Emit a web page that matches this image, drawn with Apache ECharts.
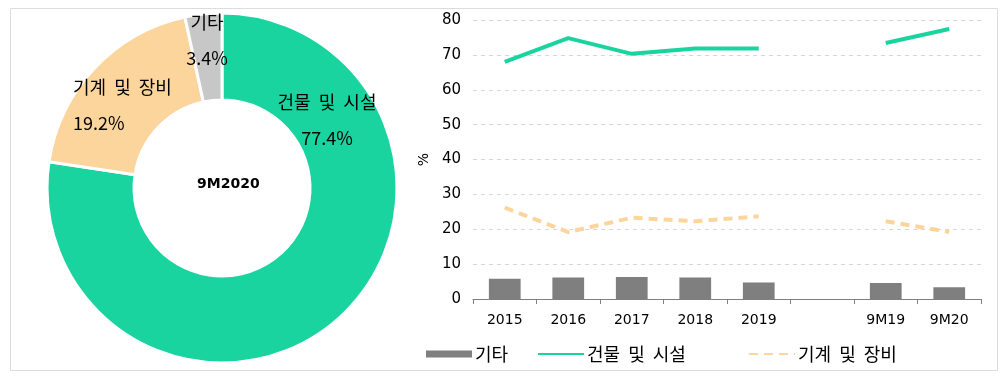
<!DOCTYPE html>
<html><head><meta charset="utf-8">
<script src="https://cdn.jsdelivr.net/npm/echarts@6/dist/echarts.min.js"></script>
<style>html,body{margin:0;padding:0;background:#fff}#c{width:1000px;height:386px}</style>
</head><body><div id="c"></div>
<script>
const categories = ['2015','2016','2017','2018','2019','','9M19','9M20'];
const buildings = [68.0, 74.8, 70.3, 71.8, 71.8, null, 73.4, 77.4];
const machinery = [26.2, 19.2, 23.3, 22.3, 23.7, null, 22.3, 19.2];
const others = [5.8, 6.2, 6.3, 6.2, 4.7, null, 4.6, 3.4];
const pieNames = ['건물 및 시설', '기계 및 장비', '기타'];
const pieValues = [77.4, 19.2, 3.4];
const pieTitle = '9M2020';
const yTicks = [0, 10, 20, 30, 40, 50, 60, 70, 80];

const KR = "'Noto Sans CJK KR', 'DejaVu Sans', sans-serif";
const NUM = "'DejaVu Sans', 'Noto Sans CJK KR', sans-serif";
const GREEN = '#1ad4a0', BEIGE = '#fcd59d', GRAY = '#c8c7c8', BAR = '#7f7f7f';
const wide = s => s.replace(/ /g, '  ');

// label anchor positions for pie labels (text placement only)
const pieLabelPos = [[327, 120, 'center'], [73, 105, 'left'], [207, 40, 'center']];

const legendBase = {
  top: 340, itemWidth: 46, itemHeight: 7,
  textStyle: { fontSize: 18, color: '#000', fontFamily: KR, padding: [0, 0, 0, -2] },
  formatter: wide
};

const chart = echarts.init(document.getElementById('c'));
chart.setOption({
  animation: false,
  textStyle: { fontFamily: KR },
  graphic: [
    { type: 'rect', shape: { x: 10.5, y: 8.5, width: 987, height: 362 }, style: { fill: 'none', stroke: '#dcdcdc', lineWidth: 1 }, z: -1 },
    { type: 'text', left: 197, top: 177, style: { text: pieTitle, font: 'bold 14px ' + NUM, fill: '#000' } }
  ],
  legend: [
    Object.assign({}, legendBase, { left: 421, data: [{ name: '기타', icon: 'rect' }] }),
    Object.assign({}, legendBase, { left: 532, data: [{ name: '건물 및 시설', itemStyle: { opacity: 0 } }] }),
    Object.assign({}, legendBase, { left: 743, data: [{ name: '기계 및 장비', itemStyle: { opacity: 0 } }] })
  ],
  grid: { left: 473, right: 19, top: 20, bottom: 87 },
  xAxis: {
    type: 'category', data: categories, boundaryGap: true,
    axisLine: { lineStyle: { color: '#808080' } },
    axisTick: { show: true, length: 5, lineStyle: { color: '#808080' } },
    axisLabel: { color: '#000', fontSize: 14, fontFamily: NUM, margin: 14 }
  },
  yAxis: {
    type: 'value', min: yTicks[0], max: yTicks[yTicks.length - 1], interval: 10,
    name: '%', nameLocation: 'middle', nameGap: 36, nameRotate: 90,
    nameTextStyle: { color: '#000', fontSize: 14, fontFamily: NUM },
    axisLine: { show: false }, axisTick: { show: false },
    axisLabel: { color: '#000', fontSize: 15, fontFamily: NUM, margin: 12 },
    splitLine: { lineStyle: { color: '#d6d6d6', type: [4, 4] } }
  },
  series: [
    {
      type: 'pie', name: 'pie', center: [222, 188], radius: [88, 175],
      startAngle: 90, clockwise: true, silent: true,
      itemStyle: { borderColor: '#fff', borderWidth: 3 },
      label: {
        show: true, position: 'inside', color: '#000', fontSize: 18, lineHeight: 36,
        fontFamily: KR,
        formatter: p => wide(p.name) + '\n' + p.value.toFixed(1) + '%'
      },
      labelLayout: p => ({ x: pieLabelPos[p.dataIndex][0], y: pieLabelPos[p.dataIndex][1], align: pieLabelPos[p.dataIndex][2], verticalAlign: 'middle' }),
      data: pieNames.map((n, i) => ({ name: n, value: pieValues[i], itemStyle: { color: [GREEN, BEIGE, GRAY][i] },
        label: { align: pieLabelPos[i][2] } }))
    },
    { name: '기타', type: 'bar', data: others, barWidth: '50%', itemStyle: { color: BAR } },
    { name: '건물 및 시설', type: 'line', data: buildings, symbol: 'none', connectNulls: false,
      lineStyle: { color: GREEN, width: 4 }, itemStyle: { color: GREEN } },
    { name: '기계 및 장비', type: 'line', data: machinery, symbol: 'none', connectNulls: false,
      lineStyle: { color: BEIGE, width: 4, type: [9, 6] }, itemStyle: { color: BEIGE } }
  ]
});
</script></body></html>
